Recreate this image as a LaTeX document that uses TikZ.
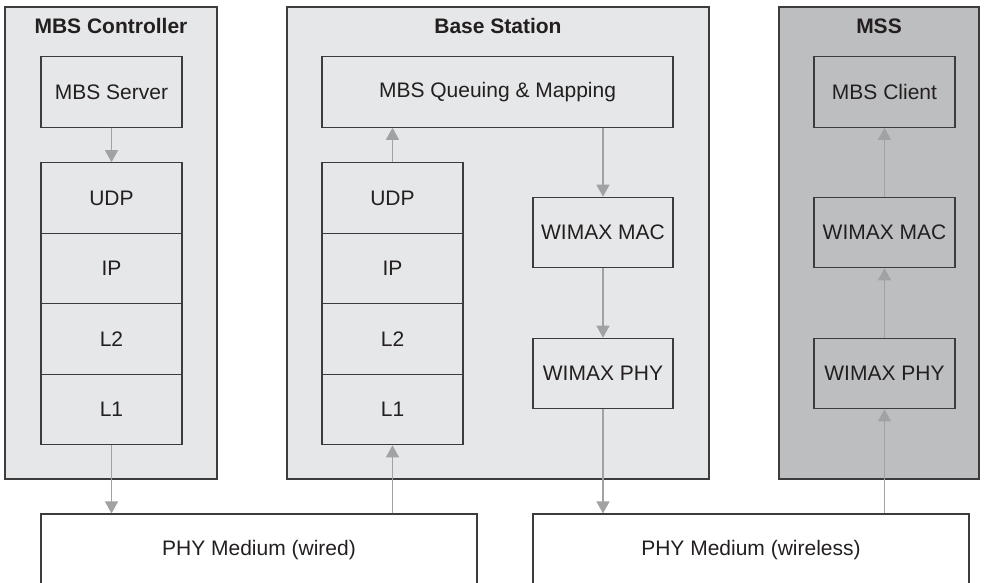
\documentclass[tikz,border=0pt]{standalone}
\usepackage{fontspec}
\setmainfont{Liberation Sans}
\usetikzlibrary{arrows.meta}
\definecolor{boxgray}{RGB}{230,231,232}
\definecolor{mssgray}{RGB}{189,190,192}
\definecolor{linegray}{RGB}{60,60,60}
\definecolor{arrowgray}{RGB}{160,162,164}
\definecolor{textgray}{RGB}{35,31,32}

\begin{document}
\begin{tikzpicture}[x=1pt,y=-1pt,>={Triangle[width=13pt,length=12pt]}]
\tikzset{every node/.style={draw=linegray,line width=1.1pt,rectangle,inner sep=0pt,
  text=textgray,font=\fontsize{21}{25}\selectfont},
  outer/.style={fill=boxgray,minimum width=#1,minimum height=472},
  title/.style={draw=none,anchor=base,font=\fontsize{21}{25}\selectfont\bfseries},
  layer/.style={fill=boxgray,minimum width=#1,minimum height=70.5},
  medium/.style={fill=white,minimum width=436,minimum height=72},
  flow/.style={->,draw=arrowgray,fill=arrowgray,line width=1.1pt}}
\useasboundingbox (0,0) rectangle (986,582);

% containers
\node[outer=212] (ctrl) at (111,243) {};
\node[title] (ctrltitle) at (111,33) {MBS Controller};
\node[outer=422] (bs) at (498,243) {};
\node[title] (bstitle) at (498,33) {Base Station};
\node[outer=200,fill=mssgray] (mss) at (879,243) {};
\node[title] (msstitle) at (879,33) {MSS};

% MBS controller
\node[layer=141] (server) at (111.5,92) {MBS Server};
\node[layer=141] (cudp) at (111.5,198) {UDP};
\node[layer=141] (cip) at (111.5,268.5) {IP};
\node[layer=141] (cl2) at (111.5,339) {L2};
\node[layer=141] (cl1) at (111.5,409.5) {L1};

% base station
\node[layer=351] (queue) at (497.5,92) {MBS Queuing \& Mapping};
\node[layer=141] (budp) at (392.5,198) {UDP};
\node[layer=141] (bip) at (392.5,268.5) {IP};
\node[layer=141] (bl2) at (392.5,339) {L2};
\node[layer=141] (bl1) at (392.5,409.5) {L1};
\node[layer=140] (bmac) at (603,232.5) {WIMAX MAC};
\node[layer=140] (bphy) at (603,373.5) {WIMAX PHY};

% MSS
\node[layer=141,fill=mssgray] (client) at (884.5,92) {MBS Client};
\node[layer=141,fill=mssgray] (mmac) at (884.5,232.5) {WIMAX MAC};
\node[layer=141,fill=mssgray] (mphy) at (884.5,373.5) {WIMAX PHY};

% media
\node[medium] (wired) at (259,550) {PHY Medium (wired)};
\node[medium] (wless) at (751,550) {PHY Medium (wireless)};

% flows
\draw[flow] (server.south) -- (cudp.north);
\draw[flow] (cl1.south) -- (cl1.south |- wired.north);
\draw[flow] (bl1.south |- wired.north) -- (bl1.south);
\draw[flow] (budp.north) -- (budp.north |- queue.south);
\draw[flow] (queue.south -| bmac.north) -- (bmac.north);
\draw[flow] (bmac.south) -- (bphy.north);
\draw[flow] (bphy.south) -- (bphy.south |- wless.north);
\draw[flow] (mphy.south |- wless.north) -- (mphy.south);
\draw[flow] (mphy.north) -- (mmac.south);
\draw[flow] (mmac.north) -- (client.south);

\end{tikzpicture}
\end{document}
